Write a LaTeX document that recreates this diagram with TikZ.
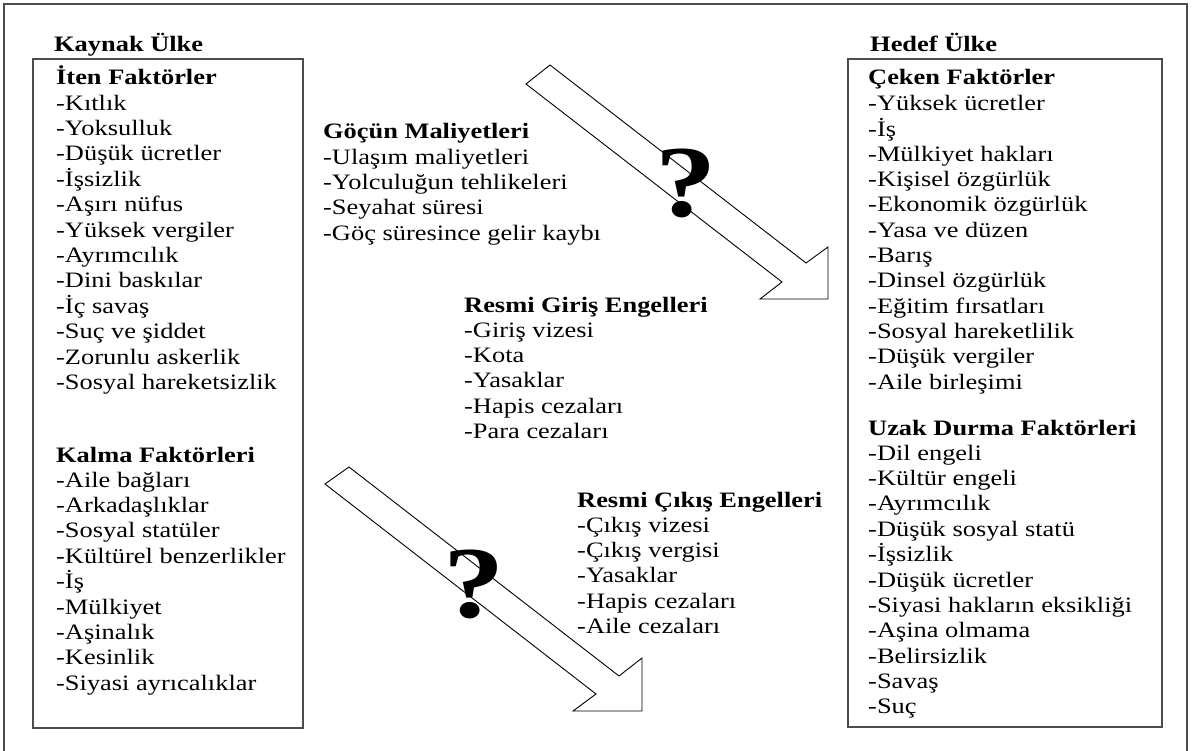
\documentclass[tikz,border=0pt]{standalone}
\usepackage{fontspec}
\setmainfont{Liberation Serif}[FakeStretch=1.2]
\newcommand{\lst}[1]{\begin{tabular}[t]{@{}l@{}}#1\end{tabular}}
\begin{document}
\begin{tikzpicture}[x=1pt,y=-1pt,
  txt/.style={anchor=base west, inner sep=0pt, font=\fontsize{22}{25.3}\selectfont},
  frame/.style={draw=black!70, line width=1.2pt},
  bigarrow/.style={draw=black, line width=0.9pt, line join=miter},
  qmark/.style={inner sep=0pt, font=\fontsize{102}{102}\selectfont\bfseries}]
\useasboundingbox (0,0) rectangle (1193,751);
% outer frame
\draw[frame] (4,752) -- (4,4) -- (1187,4) -- (1187,752);
% boxes
\draw[frame] (33,59) rectangle (303,728);
\draw[frame] (848,59) rectangle (1162,727);
% arrows
\draw[bigarrow] (550,65) -- (806,263) -- (828,247) -- (828,299) -- (760,299) -- (782,282) -- (526,84) -- cycle;
\draw[bigarrow] (349,467) -- (619,676) -- (642,658) -- (642,711) -- (573,711) -- (596,694) -- (325,484) -- cycle;
\node[qmark] (q1) at (686,183) {?};
\node[qmark] (q2) at (474,584) {?};
% headings
\node[txt] (kaynak) at (54,52) {\textbf{Kaynak Ülke}};
\node[txt] (hedef) at (870,52) {\textbf{Hedef Ülke}};
% left
\node[txt] (iten) at (56,85) {\lst{\textbf{İten Faktörler}\\-Kıtlık\\-Yoksulluk\\-Düşük ücretler\\-İşsizlik\\-Aşırı nüfus\\-Yüksek vergiler\\-Ayrımcılık\\-Dini baskılar\\-İç savaş\\-Suç ve şiddet\\-Zorunlu askerlik\\-Sosyal hareketsizlik}};
\node[txt] (kalma) at (56,462) {\lst{\textbf{Kalma Faktörleri}\\-Aile bağları\\-Arkadaşlıklar\\-Sosyal statüler\\-Kültürel benzerlikler\\-İş\\-Mülkiyet\\-Aşinalık\\-Kesinlik\\-Siyasi ayrıcalıklar}};
% right
\node[txt] (ceken) at (868,85) {\lst{\textbf{Çeken Faktörler}\\-Yüksek ücretler\\-İş\\-Mülkiyet hakları\\-Kişisel özgürlük\\-Ekonomik özgürlük\\-Yasa ve düzen\\-Barış\\-Dinsel özgürlük\\-Eğitim fırsatları\\-Sosyal hareketlilik\\-Düşük vergiler\\-Aile birleşimi}};
\node[txt] (uzak) at (868,435) {\lst{\textbf{Uzak Durma Faktörleri}\\-Dil engeli\\-Kültür engeli\\-Ayrımcılık\\-Düşük sosyal statü\\-İşsizlik\\-Düşük ücretler\\-Siyasi hakların eksikliği\\-Aşina olmama\\-Belirsizlik\\-Savaş\\-Suç}};
% middle
\node[txt] (maliyet) at (323,139) {\lst{\textbf{Göçün Maliyetleri}\\-Ulaşım maliyetleri\\-Yolculuğun tehlikeleri\\-Seyahat süresi\\-Göç süresince gelir kaybı}};
\node[txt] (giris) at (464,312) {\lst{\textbf{Resmi Giriş Engelleri}\\-Giriş vizesi\\-Kota\\-Yasaklar\\-Hapis cezaları\\-Para cezaları}};
\node[txt] (cikis) at (577,507) {\lst{\textbf{Resmi Çıkış Engelleri}\\-Çıkış vizesi\\-Çıkış vergisi\\-Yasaklar\\-Hapis cezaları\\-Aile cezaları}};
\end{tikzpicture}
\end{document}
